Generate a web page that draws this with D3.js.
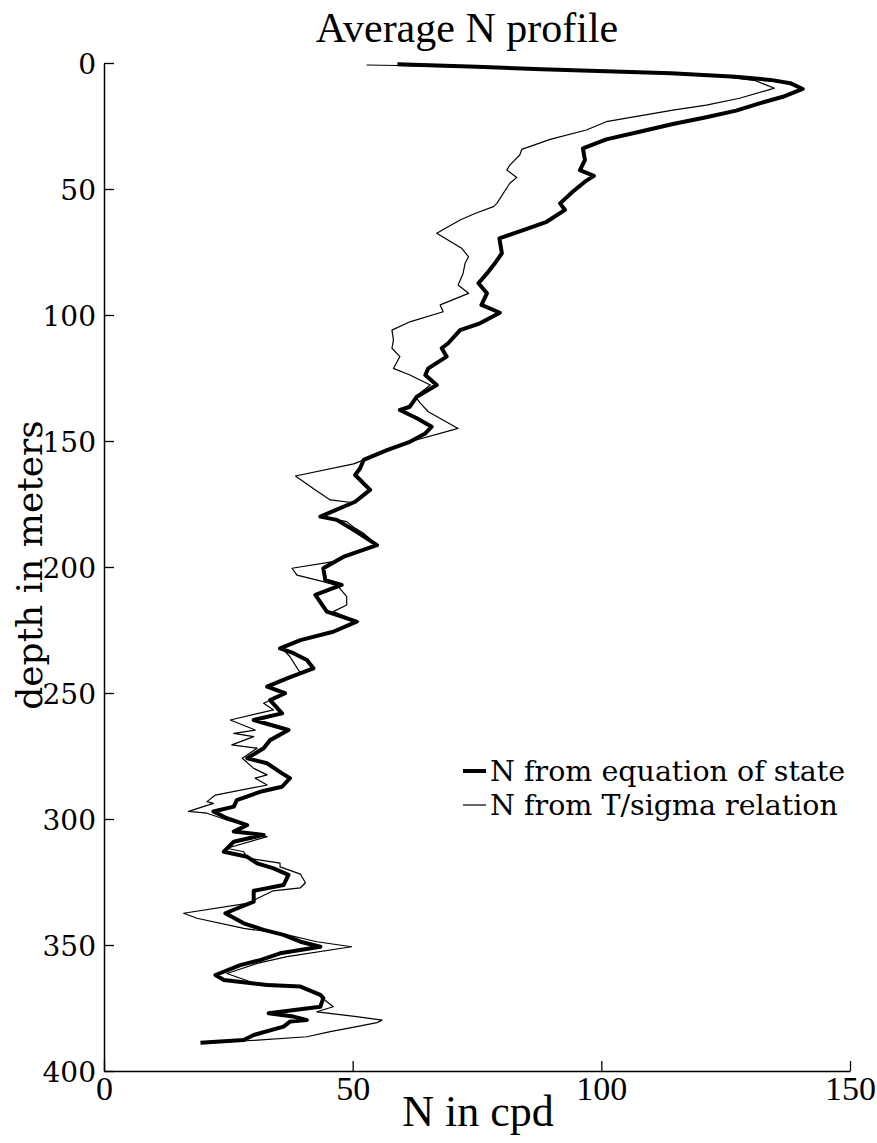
<!DOCTYPE html>
<html><head><meta charset="utf-8">
<script src="https://cdn.jsdelivr.net/npm/d3@7"></script>
<style>body{margin:0;background:#fff}svg{display:block}</style>
</head><body>
<svg id="chart" width="877" height="1143"></svg>
<script>
const title = "Average N profile";
const xLabel = "N in cpd";
const yLabel = "depth in meters";
const xTicks = [0, 50, 100, 150];
const yTicks = [0, 50, 100, 150, 200, 250, 300, 350, 400];
const seriesNames = ["N from equation of state", "N from T/sigma relation"];

// [depth (m), N (cpd)]
const eosProfile = [
[0.5,59],[1.5,75],[2.5,88],[4.1,114],[5.5,127],[6.7,134],[8.0,138],[10.3,140.5],[13.4,136.5],[16,131.8],
[18.9,127.1],[21.5,121.1],[24.2,114.4],[27.3,107.7],[30.3,101],[33.9,96.3],[38.5,96.7],[42.5,95.7],[44.8,98.5],[47.1,96.7],
[51,94.3],[55.7,91.7],[58.3,92.7],[63,89],[66.3,84.3],[69.6,79.5],[75.5,80],[79.5,78.6],[83.5,77],[87.4,75.3],
[91.4,77],[96,75.9],[99.1,79.6],[103.3,75.6],[106,71.6],[111.2,69.2],[113.2,67.9],[116.5,68.9],[121.2,65.2],[123.8,64.6],
[127.8,66.9],[132.4,62.9],[136.4,61.5],[137.7,59.5],[141,62.9],[144.3,65.9],[147,64.6],[150.3,61.5],[153.6,56.9],[157.5,52.2],
[160.8,51.5],[163.5,50.5],[169.4,53.5],[174.1,50.5],[180,43.5],[181.3,46.8],[186,50.8],[191.3,54.9],[195.9,48.2],[200.5,44.1],
[205.2,44.5],[207.1,47.8],[211.1,42.5],[217.7,44.8],[221.7,50.8],[225.7,46.1],[229,39.5],[232.3,35.4],[234.2,38.1],[236.9,40.8],
[240.2,42.1],[244.2,36.8],[247.5,32.8],[250.1,36.4],[252.8,33.4],[258.1,35.8],[260.7,30.1],[264.7,37.1],[268.7,33.4],[271.9,32.1],
[275.9,28.8],[277.9,32.8],[281.9,35.8],[283.8,37.4],[287.2,35.8],[289.2,31.4],[292.5,26.7],[295.1,26.1],[297,22],[299.7,24.7],
[302.4,28.8],[305,26.1],[306.3,32.1],[309,26.1],[313,24.1],[315,28.8],[317.6,30.8],[319.6,34.1],[322.2,37.1],[326.2,36.1],
[328.5,30.1],[332.8,30.1],[337.4,24.4],[341.4,28.1],[344,32.1],[346,36.1],[348.7,39.5],[350.7,43.5],[353.3,35.4],[356,31.4],
[358,27.4],[361.9,22.4],[363.9,24.1],[365.9,32.8],[366.5,39.5],[369.8,43.5],[371.1,44.1],[374.5,43.5],[377.1,33.1],[378.4,38.1],
[379.8,40.8],[380.4,37.4],[382.4,36.1],[385.7,30.1],[387.7,28.1],[388.8,19.4]
];

const tsigmaProfile = [
[0.8,52.8],[1.0,59],[2.5,88],[4.1,114],[5.5,125],[7,131],[10,134.8],[14,127.8],[16.7,121.1],[18.7,114.4],
[21,107.7],[23.3,101],[26.6,97],[30.3,89.7],[34.3,84],[36.5,83.6],[40.5,81.6],[42.5,81],[45.4,83],[47.7,81.6],
[55.7,79],[57,78.3],[59.7,74.6],[62.3,71.6],[67.6,66.9],[73.5,71.9],[76.9,73.3],[79.5,72.6],[83.5,72.2],[88.1,71.2],
[91.4,73.3],[96,67.6],[98.7,68.2],[102.7,61.5],[106,57.9],[109.9,58.2],[113.2,57.9],[116.5,59.5],[121.2,58.2],[123.8,61.5],
[127.8,65.6],[132.4,62.6],[135,63.6],[138.4,65.2],[145,71.2],[150.3,61.5],[159.1,50.2],[163.9,38.5],[169.4,42.5],[173.4,45.5],
[174.5,50.2],[180,43.8],[182,48.8],[184.2,50.2],[186.6,52.2],[191.3,54.9],[197.9,46.1],[200.5,37.8],[203.2,38.8],[205.8,44.1],
[207.5,47],[211.8,48.8],[215.1,48.8],[217.7,46.1],[221.7,51.2],[225.7,46.1],[229,39.5],[232.3,35.8],[235.6,37.4],[240.9,39.1],
[242,39.5],[244.2,36.8],[247.5,32.8],[250.1,36.4],[254.1,32.1],[256.7,34.1],[260.7,25.4],[264.7,30.4],[266,26.1],[267.3,30.1],
[270.6,25.7],[271.9,30.8],[275.9,27.8],[279.9,30.1],[282.5,32.8],[283.8,30.4],[286.5,32.8],[290.5,22.4],[293.1,20.7],[293.8,22],
[297,17],[297.7,20.7],[300.4,24.7],[302.4,28.8],[305,26.5],[307,32.8],[311.6,24.7],[313,28.1],[315.5,28.8],[317.5,35.4],
[319,35.4],[321.9,39.5],[325.3,40.5],[327.3,39.5],[328.5,34],[333.5,28.8],[337.4,16],[339.4,18.7],[343.4,28.1],[345.4,35.6],
[348.7,42.8],[350.7,49.8],[354.6,36.8],[357.3,30.8],[361.3,24.7],[365,30],[366.5,39.5],[369.8,43.5],[372,44.5],[374.5,46.1],
[376.5,42.8],[378.4,50.8],[379.8,55.9],[380.8,54.9],[382.4,50.8],[384.4,45.5],[386.4,40.8],[388.1,28.1]
];

const svg = d3.select("#chart");
svg.append("rect").attr("width",877).attr("height",1143).attr("fill","#fff");

const mLeft = 104, mRight = 850, mTop = 63, mBottom = 1071;
const x = d3.scaleLinear().domain([0,150]).range([mLeft,mRight]);
const y = d3.scaleLinear().domain([0,400]).range([mTop,mBottom]);

const serif = "'Liberation Serif', 'Times New Roman', serif";
const wide = "'DejaVu Serif', serif";

// axes
const yAxis = d3.axisLeft(y).tickValues(yTicks).tickSizeInner(-10).tickSizeOuter(0).tickPadding(8).tickFormat(d3.format("d"));
const xAxis = d3.axisBottom(x).tickValues(xTicks).tickSizeInner(-10).tickSizeOuter(0).tickPadding(3).tickFormat(d3.format("d"));

const gy = svg.append("g").attr("transform",`translate(${mLeft},0)`).call(yAxis);
const gx = svg.append("g").attr("transform",`translate(0,${mBottom})`).call(xAxis);
[gx,gy].forEach(g=>{
  g.select(".domain").attr("stroke","#000").attr("stroke-width",1.5);
  g.selectAll(".tick line").attr("stroke","#000").attr("stroke-width",1.3);
  g.selectAll(".tick text").attr("fill","#000");
});
gy.selectAll(".tick text").attr("font-family",wide).attr("font-size",28).attr("dy","0.36em");
gx.selectAll(".tick text").attr("font-family",serif).attr("font-size",34).attr("dy","0.75em");

// lines
const line = d3.line().x(d=>x(d[1])).y(d=>y(d[0]));
svg.append("path").datum(tsigmaProfile).attr("d",line).attr("fill","none").attr("stroke","#000").attr("stroke-width",1.2).attr("stroke-linejoin","round");
svg.append("path").datum(eosProfile).attr("d",line).attr("fill","none").attr("stroke","#000").attr("stroke-width",4).attr("stroke-linejoin","round");

// legend
const legend = [{name:seriesNames[0], w:4, y:771},{name:seriesNames[1], w:1.2, y:805}];
legend.forEach(l=>{
  svg.append("line").attr("x1",463).attr("x2",486).attr("y1",l.y).attr("y2",l.y).attr("stroke","#000").attr("stroke-width",l.w);
  svg.append("text").attr("x",490).attr("y",l.y+10).attr("font-family",wide).attr("font-size",28.5).attr("fill","#000").text(l.name);
});

// titles
svg.append("text").attr("x",467).attr("y",42).attr("text-anchor","middle").attr("font-family",serif).attr("font-size",42).attr("fill","#000").text(title);
svg.append("text").attr("x",478).attr("y",1126).attr("text-anchor","middle").attr("font-family",serif).attr("font-size",44).attr("fill","#000").text(xLabel);
svg.append("text").attr("transform","translate(42,565) rotate(-90)").attr("text-anchor","middle").attr("font-family",wide).attr("font-size",36).attr("fill","#000").text(yLabel);
</script>
</body></html>
